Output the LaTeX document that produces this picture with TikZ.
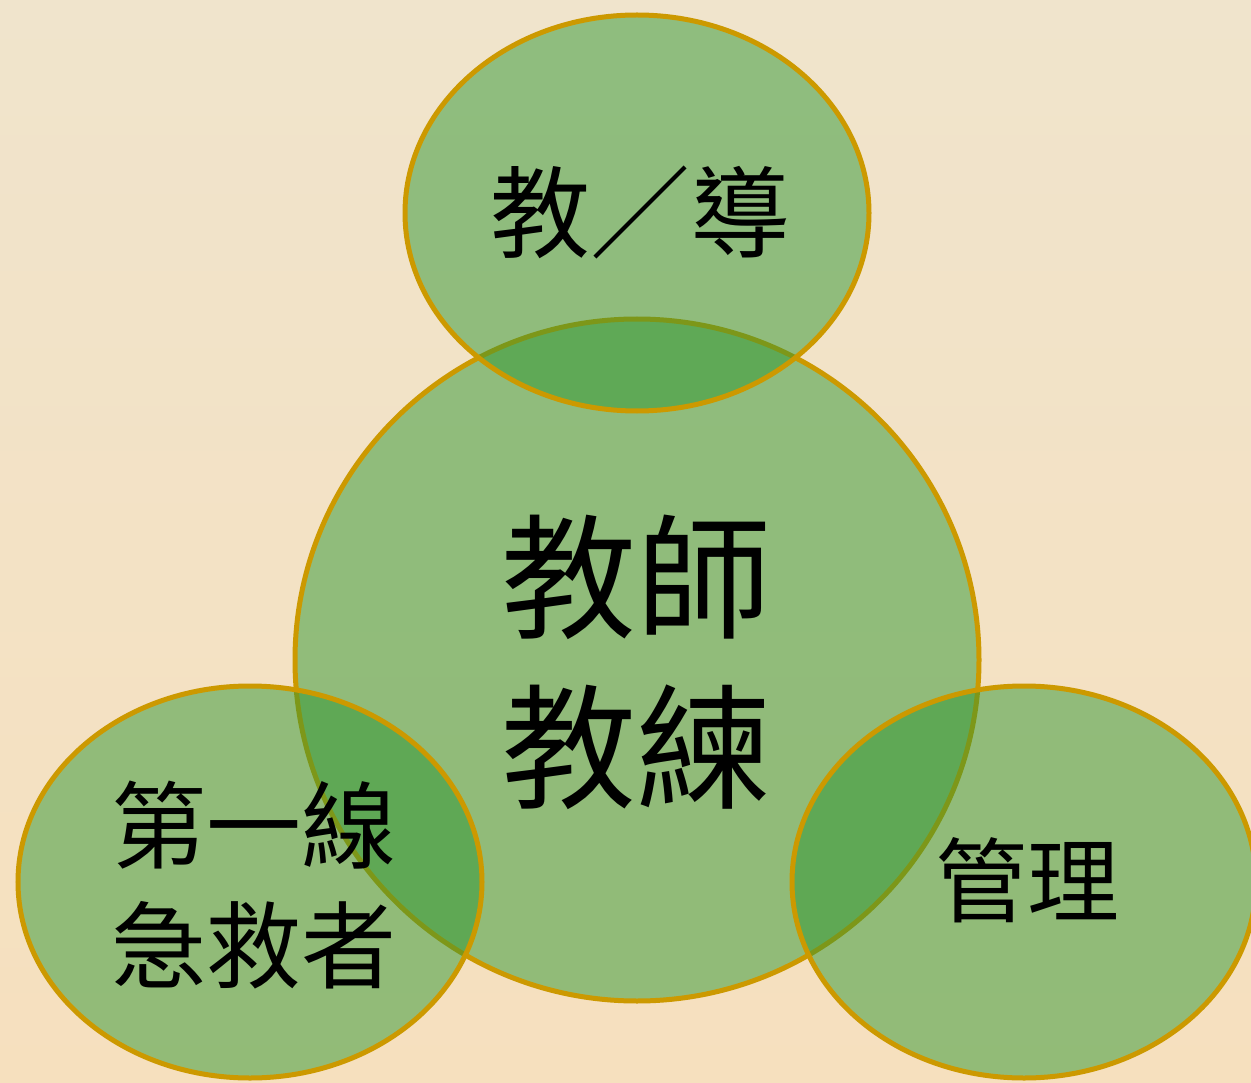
\documentclass[tikz,border=0pt]{standalone}
\usepackage{fontspec}
\newfontfamily\cjk{Noto Sans CJK TC}
\usetikzlibrary{shapes.geometric}
\definecolor{bgtop}{RGB}{240,228,204}
\definecolor{bgbot}{RGB}{246,224,190}
\definecolor{leaf}{RGB}{47,151,50}
\definecolor{gold}{RGB}{204,153,0}
\tikzset{
  bubble/.style={ellipse, inner sep=0pt, outer sep=0pt, draw=gold, line width=5pt,
    fill=leaf, fill opacity=0.5, draw opacity=1},
  label/.style={inner sep=0pt, outer sep=0pt, align=center, text=black}
}
\begin{document}
\begin{tikzpicture}[x=1pt,y=-1pt]
\useasboundingbox (0,0) rectangle (1251,1083);
\clip (0,0) rectangle (1251,1083);
\shade[top color=bgtop, bottom color=bgbot] (0,0) rectangle (1251,1083);
% shapes (centre circle first, the others drawn over it)
\node[bubble, minimum width=684pt, minimum height=682pt] (core) at (637,660) {};
\node[bubble, minimum width=464pt, minimum height=396pt] (teach) at (637,213) {};
\node[bubble, minimum width=464pt, minimum height=392pt] (aid) at (250,882) {};
\node[bubble, minimum width=464pt, minimum height=392pt] (mgmt) at (1024,882) {};
% texts
\node[label, font=\cjk\fontsize{100}{110}\selectfont] (tteach) at (640,213) {教／導};
\node[label, font=\cjk\fontsize{135}{170}\selectfont] (tcore) at (636,662) {教師\\教練};
\node[label, font=\cjk\fontsize{95}{120}\selectfont] (taid) at (254,885) {第一線\\急救者};
\node[label, font=\cjk\fontsize{92}{100}\selectfont] (tmgmt) at (1027,880) {管理};
\end{tikzpicture}
\end{document}
